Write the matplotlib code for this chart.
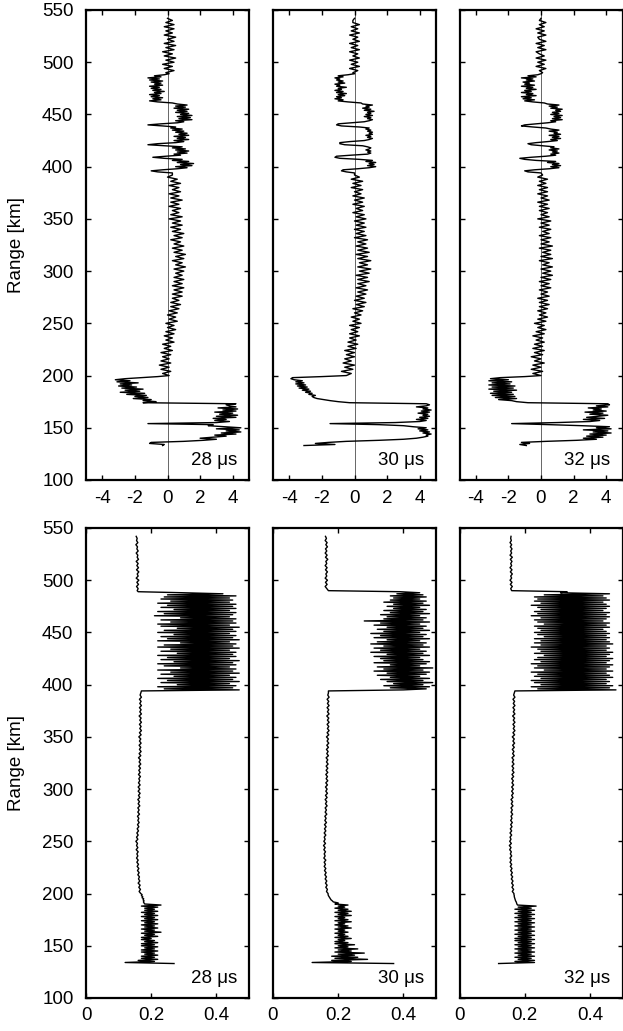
# -*- coding: utf-8 -*-

import numpy as np
import matplotlib
matplotlib.use("Agg")
import matplotlib.pyplot as plt

# --------------------
# Data
# --------------------

# range grid [km] (1 km steps where the profiles change quickly, 2 km elsewhere)
range_km = np.concatenate([
    np.arange(133, 200, 1),
    np.arange(200, 393, 2),
    np.arange(394, 491, 1),
    np.arange(492, 543, 2),
])

pulse_labels = ["28 \u03bcs", "30 \u03bcs", "32 \u03bcs"]

range_ticks = [100, 150, 200, 250, 300, 350, 400, 450, 500, 550]
top_xticks = [-4, -2, 0, 2, 4]
bottom_xticks = [0, 0.2, 0.4]
bottom_xticklabels = ["0", "0.2", "0.4"]

# upper row: signed amplitude profiles
amp_28 = [
    # 133 - 199 km
    -0.3, -0.2, -1.1, -1.0, 1.0, 2.2, 3.0, 2.0, 2.8, 3.6,
    2.9, 4.2, 3.3, 4.5, 3.6, 4.4, 3.0, 4.5, 3.5, 2.5,
    2.8, -1.2, 3.0, 3.8, 2.9, 3.6, 2.8, 4.2, 3.0, 4.3,
    3.2, 4.0, 2.9, 4.2, 3.4, 4.3, 3.1, 4.2, 3.8, 3.6,
    4.2, -1.5, -0.7, -1.5, -1.0, -2.1, -1.2, -2.0, -1.3, -2.5,
    -1.4, -2.9, -1.7, -2.6, -1.5, -2.8, -1.9, -3.0, -2.2, -2.9,
    -1.8, -3.1, -2.3, -3.2, -2.6, -1.6, -0.6,
    # 200 - 392 km
    0.1, -0.3, 0.2, -0.4, 0.1, -0.5, 0.2, -0.4, 0.1, -0.3,
    0.2, -0.4, 0.3, -0.2, 0.2, -0.3, 0.4, -0.1, 0.3, -0.2,
    0.4, -0.1, 0.5, 0.0, 0.4, -0.1, 0.6, 0.1, 0.5, 0.0,
    0.6, 0.1, 0.7, 0.2, 0.8, 0.2, 0.7, 0.3, 0.9, 0.3,
    0.9, 0.4, 1.0, 0.3, 0.9, 0.4, 1.0, 0.4, 0.9, 0.5,
    1.0, 0.4, 1.1, 0.5, 0.9, 0.3, 1.0, 0.5, 1.1, 0.4,
    0.9, 0.3, 1.0, 0.4, 0.8, 0.2, 0.9, 0.4, 1.0, 0.3,
    0.8, 0.2, 0.9, 0.3, 0.8, 0.1, 0.9, 0.2, 0.7, 0.3,
    0.8, 0.1, 0.7, 0.2, 0.9, 0.2, 0.7, 0.1, 0.8, 0.3,
    0.7, 0.1, 0.8, 0.2, 0.6, 0.0, 0.3,
    # 394 - 490 km
    0.3, -0.6, -1.0, -0.3, 0.6, 1.2, 0.5, 1.5, 0.8, 1.6,
    0.6, 1.3, 0.3, 0.9, -0.2, -0.9, -0.1, 0.8, 0.4, 1.2,
    0.6, 1.3, 0.5, 1.1, 0.3, 0.9, -0.2, -1.2, -0.6, 0.5,
    1.0, 0.4, 1.3, 0.6, 1.1, 0.4, 1.3, 0.7, 1.2, 0.5,
    1.0, 0.3, 0.9, 0.2, 0.5, -0.3, -1.2, -0.4, 0.6, 1.0,
    0.5, 1.5, 0.7, 1.4, 0.6, 1.5, 0.8, 1.3, 0.5, 1.2,
    0.6, 1.3, 0.4, 1.1, 0.5, 1.2, 0.6, 0.3, -0.6, -1.1,
    -0.4, -0.9, -0.3, -1.0, -0.5, -1.1, -0.4, -0.8, -0.2, -0.9,
    -0.4, -1.0, -0.5, -1.1, -0.3, -0.8, -0.4, -1.0, -0.3, -1.1,
    -0.5, -1.2, -0.4, -0.8, -0.2, 0.1, -0.1,
    # 492 - 542 km
    0.4, -0.2, 0.3, -0.3, 0.4, -0.1, 0.5, -0.2, 0.3, -0.3,
    0.4, -0.1, 0.5, -0.2, 0.4, 0.0, 0.5, -0.2, 0.3, -0.1,
    0.4, -0.2, 0.4, -0.1, 0.3, 0.0,
]

amp_30 = [
    # 133 - 199 km
    -3.1, -1.2, -2.4, -1.6, -0.5, 1.5, 3.0, 3.8, 4.2, 4.5,
    4.4, 4.7, 4.2, 4.6, 4.0, 4.5, 3.9, 4.4, 3.6, 3.0,
    1.5, -1.5, 2.5, 4.0, 4.4, 3.8, 4.5, 4.0, 4.6, 4.2,
    4.5, 3.9, 4.6, 4.1, 4.7, 4.2, 4.5, 3.8, 4.4, 4.6,
    4.4, -0.3, -1.0, -1.5, -1.9, -2.3, -2.5, -2.6, -2.4, -2.8,
    -2.6, -3.0, -2.7, -3.2, -2.8, -3.4, -2.9, -3.5, -3.0, -3.6,
    -3.1, -3.6, -3.2, -3.7, -3.9, -3.8, -2.0,
    # 200 - 392 km
    -0.5, -0.2, -0.8, -0.1, -0.6, 0.0, -0.7, -0.2, -0.6, 0.0,
    -0.5, 0.0, -0.6, 0.1, -0.4, 0.2, -0.4, 0.1, -0.3, 0.3,
    -0.3, 0.2, -0.2, 0.3, -0.3, 0.4, -0.1, 0.3, -0.2, 0.4,
    0.0, 0.5, -0.1, 0.6, 0.1, 0.7, 0.0, 0.6, 0.1, 0.7,
    0.2, 0.8, 0.1, 0.7, 0.2, 0.9, 0.2, 0.8, 0.1, 0.9,
    0.3, 1.0, 0.2, 0.8, 0.3, 1.0, 0.2, 0.8, 0.1, 0.9,
    0.2, 0.8, 0.1, 0.7, 0.2, 0.8, 0.0, 0.7, 0.1, 0.6,
    0.0, 0.7, 0.1, 0.6, 0.0, 0.7, 0.1, 0.6, -0.1, 0.5,
    0.1, 0.6, -0.1, 0.5, 0.0, 0.6, -0.1, 0.4, 0.0, 0.5,
    -0.2, 0.4, -0.1, 0.5, -0.2, 0.3, 0.0,
    # 394 - 490 km
    0.0, -0.5, -0.8, -0.7, 0.2, 0.9, 1.3, 0.8, 1.2, 0.9,
    1.3, 0.7, 1.1, 0.3, -0.9, -1.2, -1.1, -0.2, 0.8, 1.0,
    0.8, 1.0, 0.7, 0.9, 1.0, 0.8, 0.5, -0.6, -0.9, -0.9,
    -0.3, 0.6, 0.9, 1.1, 0.8, 1.0, 0.7, 1.1, 0.9, 1.1,
    0.8, 1.0, 0.7, 0.9, 0.3, -0.8, -1.1, -1.0, -0.2, 0.6,
    0.9, 1.1, 0.8, 1.0, 0.6, 1.1, 0.7, 1.0, 0.8, 1.2,
    0.6, 1.0, 0.5, 0.9, 0.7, 1.1, 0.5, 0.4, -0.4, -1.0,
    -0.7, -1.2, -0.8, -1.1, -0.6, -1.0, -0.5, -1.1, -0.7, -1.2,
    -0.8, -1.0, -0.5, -1.1, -0.9, -1.2, -0.6, -1.0, -0.7, -1.1,
    -0.9, -1.2, -0.7, -1.0, -0.4, 0.0, -0.1,
    # 492 - 542 km
    0.2, -0.3, 0.3, -0.2, 0.2, -0.3, 0.3, -0.1, 0.2, -0.3,
    0.3, -0.2, 0.2, -0.3, 0.3, -0.1, 0.2, -0.3, 0.3, -0.2,
    0.2, -0.2, 0.3, -0.1, -0.1, 0.0,
]

amp_32 = [
    # 133 - 199 km
    -0.9, -1.3, -0.7, -1.2, 0.3, 2.2, 3.4, 2.6, 3.8, 2.8,
    4.0, 3.0, 4.3, 3.2, 4.1, 2.6, 4.3, 3.4, 4.2, 2.5,
    0.5, -1.8, 1.0, 3.0, 3.6, 2.6, 3.9, 2.8, 3.5, 4.1,
    3.0, 3.8, 2.7, 4.0, 3.2, 3.7, 2.9, 4.1, 3.4, 4.2,
    4.1, -0.8, -1.5, -1.8, -2.6, -1.5, -2.8, -1.6, -3.0, -1.7,
    -3.1, -1.8, -2.9, -1.5, -3.2, -1.7, -3.0, -1.6, -3.2, -1.9,
    -3.0, -1.8, -3.2, -2.0, -3.1, -2.5, -1.0,
    # 200 - 392 km
    0.0, -0.5, 0.1, -0.6, 0.0, -0.5, 0.2, -0.4, 0.0, -0.6,
    0.1, -0.4, 0.2, -0.5, 0.1, -0.4, 0.2, -0.3, 0.1, -0.5,
    0.2, -0.3, 0.3, -0.2, 0.2, -0.4, 0.3, -0.2, 0.4, -0.1,
    0.3, -0.2, 0.4, -0.1, 0.5, -0.1, 0.4, -0.2, 0.5, 0.0,
    0.4, -0.1, 0.6, 0.0, 0.5, -0.1, 0.6, 0.0, 0.7, 0.1,
    0.6, 0.0, 0.7, 0.1, 0.5, -0.1, 0.7, 0.0, 0.6, 0.1,
    0.6, -0.1, 0.7, 0.0, 0.5, 0.0, 0.6, -0.1, 0.5, 0.1,
    0.6, -0.1, 0.5, 0.0, 0.6, -0.2, 0.5, 0.0, 0.4, -0.1,
    0.5, -0.1, 0.4, -0.2, 0.5, 0.0, 0.4, -0.2, 0.4, -0.1,
    0.4, -0.2, 0.3, -0.1, 0.4, -0.2, 0.1,
    # 394 - 490 km
    0.0, -0.8, -1.0, -0.4, 0.5, 1.1, 0.6, 1.2, 0.7, 1.1,
    0.4, 0.9, -0.3, -1.0, -1.3, -0.6, 0.3, 0.9, 0.6, 1.1,
    0.7, 1.0, 0.5, 1.1, 0.6, 0.8, 0.1, -0.6, -0.8, -0.3,
    0.4, 1.0, 0.6, 1.2, 0.7, 1.1, 0.5, 1.2, 0.8, 1.0,
    0.5, 1.1, 0.6, 0.3, -0.5, -1.2, -1.0, -0.3, 0.4, 0.9,
    0.6, 1.3, 0.7, 1.2, 0.8, 1.3, 0.6, 1.1, 0.7, 1.2,
    0.9, 1.3, 0.6, 1.0, 0.5, 1.1, 0.4, 0.2, -0.5, -1.0,
    -0.4, -1.1, -0.6, -1.2, -0.3, -0.9, -0.5, -1.2, -0.6, -1.0,
    -0.3, -0.9, -0.5, -1.2, -0.4, -1.0, -0.7, -1.1, -0.4, -0.9,
    -0.5, -1.2, -0.3, -0.8, -0.2, 0.0, 0.1,
    # 492 - 542 km
    -0.1, 0.3, -0.3, 0.2, -0.2, 0.3, -0.3, 0.2, -0.1, -0.3,
    0.3, -0.2, 0.2, -0.3, 0.3, -0.1, -0.2, 0.3, -0.2, 0.2,
    -0.3, 0.2, -0.1, 0.3, -0.1, 0.0,
]

# lower row: power profiles
pow_28 = [
    # 133 - 199 km
    0.27, 0.12, 0.21, 0.16, 0.22, 0.17, 0.21, 0.17, 0.22, 0.18,
    0.21, 0.17, 0.22, 0.17, 0.21, 0.18, 0.22, 0.17, 0.21, 0.17,
    0.22, 0.18, 0.21, 0.17, 0.20, 0.17, 0.22, 0.18, 0.21, 0.17,
    0.23, 0.18, 0.21, 0.17, 0.22, 0.18, 0.21, 0.17, 0.22, 0.18,
    0.21, 0.17, 0.22, 0.18, 0.21, 0.17, 0.22, 0.18, 0.21, 0.17,
    0.22, 0.18, 0.21, 0.18, 0.22, 0.17, 0.23, 0.18, 0.178, 0.176,
    0.178, 0.175, 0.177, 0.172, 0.174, 0.170, 0.172,
    # 200 - 392 km
    0.168, 0.163, 0.167, 0.162, 0.166, 0.160, 0.165, 0.161, 0.164, 0.159,
    0.163, 0.158, 0.162, 0.157, 0.161, 0.156, 0.160, 0.155, 0.159, 0.156,
    0.160, 0.154, 0.159, 0.155, 0.158, 0.153, 0.159, 0.155, 0.160, 0.156,
    0.161, 0.157, 0.162, 0.158, 0.163, 0.159, 0.162, 0.158, 0.164, 0.159,
    0.163, 0.159, 0.165, 0.160, 0.164, 0.159, 0.165, 0.161, 0.166, 0.160,
    0.165, 0.160, 0.166, 0.161, 0.165, 0.162, 0.167, 0.161, 0.166, 0.162,
    0.167, 0.162, 0.168, 0.163, 0.167, 0.161, 0.168, 0.163, 0.169, 0.164,
    0.168, 0.163, 0.169, 0.164, 0.168, 0.162, 0.169, 0.164, 0.170, 0.165,
    0.169, 0.164, 0.170, 0.165, 0.169, 0.163, 0.170, 0.165, 0.169, 0.164,
    0.170, 0.165, 0.169, 0.164, 0.170, 0.166, 0.168,
    # 394 - 490 km
    0.17, 0.47, 0.24, 0.45, 0.22, 0.46, 0.28, 0.44, 0.23, 0.47,
    0.25, 0.45, 0.22, 0.46, 0.27, 0.44, 0.23, 0.47, 0.26, 0.45,
    0.22, 0.46, 0.29, 0.44, 0.24, 0.46, 0.22, 0.45, 0.27, 0.47,
    0.23, 0.44, 0.25, 0.46, 0.22, 0.45, 0.28, 0.46, 0.23, 0.44,
    0.26, 0.47, 0.22, 0.45, 0.24, 0.46, 0.29, 0.44, 0.22, 0.47,
    0.25, 0.45, 0.23, 0.46, 0.27, 0.44, 0.22, 0.46, 0.24, 0.45,
    0.28, 0.47, 0.23, 0.44, 0.22, 0.46, 0.26, 0.45, 0.23, 0.46,
    0.29, 0.44, 0.21, 0.45, 0.24, 0.46, 0.22, 0.44, 0.27, 0.46,
    0.23, 0.45, 0.25, 0.46, 0.22, 0.44, 0.26, 0.45, 0.23, 0.44,
    0.24, 0.46, 0.25, 0.42, 0.30, 0.16, 0.157,
    # 492 - 542 km
    0.160, 0.155, 0.161, 0.156, 0.162, 0.154, 0.160, 0.157, 0.162, 0.155,
    0.161, 0.156, 0.160, 0.154, 0.161, 0.157, 0.159, 0.154, 0.160, 0.156,
    0.158, 0.153, 0.159, 0.155, 0.157, 0.154,
]

pow_30 = [
    # 133 - 199 km
    0.37, 0.12, 0.24, 0.18, 0.29, 0.19, 0.26, 0.18, 0.25, 0.20,
    0.28, 0.19, 0.24, 0.20, 0.26, 0.19, 0.23, 0.20, 0.25, 0.19,
    0.23, 0.19, 0.22, 0.20, 0.24, 0.19, 0.23, 0.20, 0.22, 0.19,
    0.23, 0.20, 0.22, 0.19, 0.24, 0.20, 0.23, 0.19, 0.22, 0.20,
    0.24, 0.19, 0.23, 0.20, 0.22, 0.19, 0.24, 0.20, 0.23, 0.19,
    0.24, 0.20, 0.23, 0.19, 0.22, 0.20, 0.23, 0.19, 0.20, 0.185,
    0.182, 0.178, 0.176, 0.174, 0.172, 0.170, 0.169,
    # 200 - 392 km
    0.169, 0.164, 0.167, 0.162, 0.166, 0.161, 0.165, 0.160, 0.164, 0.159,
    0.163, 0.158, 0.162, 0.157, 0.161, 0.157, 0.162, 0.156, 0.160, 0.157,
    0.161, 0.156, 0.160, 0.155, 0.161, 0.156, 0.160, 0.157, 0.162, 0.157,
    0.162, 0.158, 0.163, 0.158, 0.164, 0.159, 0.163, 0.159, 0.165, 0.160,
    0.164, 0.160, 0.166, 0.161, 0.165, 0.160, 0.166, 0.161, 0.167, 0.162,
    0.166, 0.161, 0.167, 0.162, 0.168, 0.163, 0.167, 0.162, 0.168, 0.163,
    0.168, 0.163, 0.169, 0.164, 0.168, 0.163, 0.170, 0.165, 0.169, 0.164,
    0.170, 0.165, 0.171, 0.166, 0.170, 0.164, 0.171, 0.166, 0.172, 0.167,
    0.171, 0.166, 0.172, 0.167, 0.171, 0.165, 0.172, 0.167, 0.171, 0.166,
    0.172, 0.167, 0.171, 0.166, 0.172, 0.168, 0.170,
    # 394 - 490 km
    0.17, 0.40, 0.47, 0.36, 0.48, 0.34, 0.46, 0.37, 0.49, 0.35,
    0.46, 0.33, 0.48, 0.36, 0.45, 0.32, 0.47, 0.35, 0.48, 0.31,
    0.46, 0.34, 0.49, 0.32, 0.45, 0.36, 0.47, 0.31, 0.48, 0.34,
    0.46, 0.33, 0.45, 0.31, 0.48, 0.35, 0.46, 0.30, 0.47, 0.33,
    0.45, 0.31, 0.48, 0.34, 0.46, 0.30, 0.47, 0.32, 0.45, 0.35,
    0.48, 0.31, 0.46, 0.33, 0.47, 0.30, 0.45, 0.34, 0.48, 0.32,
    0.46, 0.35, 0.47, 0.31, 0.45, 0.33, 0.48, 0.28, 0.46, 0.34,
    0.47, 0.35, 0.45, 0.33, 0.48, 0.36, 0.46, 0.34, 0.47, 0.37,
    0.45, 0.35, 0.48, 0.37, 0.46, 0.34, 0.47, 0.36, 0.45, 0.37,
    0.47, 0.36, 0.46, 0.38, 0.45, 0.39, 0.17,
    # 492 - 542 km
    0.165, 0.160, 0.166, 0.161, 0.167, 0.160, 0.165, 0.162, 0.167, 0.161,
    0.166, 0.160, 0.165, 0.162, 0.168, 0.161, 0.166, 0.160, 0.165, 0.161,
    0.167, 0.162, 0.166, 0.160, 0.164, 0.161,
]

pow_32 = [
    # 133 - 199 km
    0.12, 0.23, 0.17, 0.23, 0.18, 0.22, 0.17, 0.23, 0.18, 0.22,
    0.17, 0.23, 0.18, 0.22, 0.17, 0.23, 0.18, 0.22, 0.17, 0.23,
    0.18, 0.22, 0.17, 0.23, 0.17, 0.22, 0.18, 0.23, 0.17, 0.22,
    0.18, 0.23, 0.17, 0.22, 0.18, 0.23, 0.17, 0.22, 0.18, 0.23,
    0.17, 0.22, 0.18, 0.23, 0.17, 0.22, 0.18, 0.23, 0.17, 0.22,
    0.18, 0.23, 0.17, 0.22, 0.18, 0.235, 0.178, 0.176, 0.175, 0.174,
    0.172, 0.171, 0.170, 0.169, 0.168, 0.168, 0.167,
    # 200 - 392 km
    0.167, 0.162, 0.166, 0.161, 0.165, 0.160, 0.164, 0.159, 0.163, 0.158,
    0.162, 0.157, 0.161, 0.156, 0.160, 0.155, 0.159, 0.155, 0.160, 0.156,
    0.159, 0.154, 0.158, 0.153, 0.159, 0.154, 0.158, 0.155, 0.160, 0.155,
    0.160, 0.156, 0.161, 0.157, 0.162, 0.157, 0.161, 0.158, 0.163, 0.158,
    0.162, 0.158, 0.164, 0.159, 0.163, 0.158, 0.164, 0.160, 0.165, 0.160,
    0.165, 0.160, 0.166, 0.161, 0.165, 0.160, 0.166, 0.161, 0.167, 0.162,
    0.166, 0.161, 0.167, 0.162, 0.166, 0.161, 0.168, 0.163, 0.167, 0.162,
    0.168, 0.163, 0.169, 0.164, 0.168, 0.162, 0.169, 0.164, 0.170, 0.165,
    0.169, 0.164, 0.170, 0.165, 0.169, 0.163, 0.170, 0.165, 0.169, 0.164,
    0.170, 0.165, 0.169, 0.164, 0.170, 0.166, 0.168,
    # 394 - 490 km
    0.17, 0.48, 0.24, 0.46, 0.22, 0.47, 0.25, 0.45, 0.23, 0.46,
    0.22, 0.45, 0.25, 0.47, 0.23, 0.46, 0.24, 0.45, 0.22, 0.47,
    0.26, 0.45, 0.23, 0.46, 0.24, 0.47, 0.22, 0.45, 0.25, 0.46,
    0.23, 0.47, 0.24, 0.45, 0.26, 0.46, 0.23, 0.47, 0.25, 0.45,
    0.24, 0.46, 0.22, 0.45, 0.25, 0.47, 0.23, 0.46, 0.25, 0.45,
    0.23, 0.46, 0.26, 0.45, 0.24, 0.46, 0.23, 0.45, 0.25, 0.44,
    0.24, 0.46, 0.23, 0.45, 0.26, 0.46, 0.24, 0.44, 0.23, 0.45,
    0.25, 0.46, 0.22, 0.45, 0.24, 0.46, 0.23, 0.44, 0.25, 0.45,
    0.24, 0.46, 0.22, 0.45, 0.25, 0.44, 0.23, 0.46, 0.24, 0.45,
    0.23, 0.44, 0.26, 0.46, 0.31, 0.33, 0.16,
    # 492 - 542 km
    0.157, 0.162, 0.156, 0.161, 0.155, 0.160, 0.157, 0.162, 0.156, 0.161,
    0.155, 0.160, 0.157, 0.161, 0.156, 0.162, 0.155, 0.160, 0.157, 0.161,
    0.156, 0.160, 0.155, 0.159, 0.157, 0.158,
]

top_profiles = [amp_28, amp_30, amp_32]
bottom_profiles = [pow_28, pow_30, pow_32]


if __name__ == '__main__':
    plt.rcParams['font.family'] = ['Liberation Sans', 'DejaVu Sans']
    plt.rcParams['axes.unicode_minus'] = False

    for p in top_profiles + bottom_profiles:
        assert len(p) == len(range_km), (len(p), len(range_km))

    fig = plt.figure(figsize=(6.23, 10.31), dpi=100)

    col_left = [86 / 623, 273 / 623, 459.5 / 623]
    ax_w = 163 / 623
    ax_h = 470 / 1031
    row_bottom = [1 - 480 / 1031, 1 - 998 / 1031]

    font_size = 13.5

    for row in range(2):
        for col in range(3):
            ax = fig.add_axes([col_left[col], row_bottom[row], ax_w, ax_h])

            if row == 0:
                # signed amplitude with zero reference line
                ax.axvline(0, color='0.3', lw=0.6, zorder=1)
                ax.plot(top_profiles[col], range_km, color='k', lw=1.0, zorder=2)
                ax.set_xlim(-5, 5)
                ax.set_xticks(top_xticks)
                xpad = 7
            else:
                ax.plot(bottom_profiles[col], range_km, color='k', lw=1.0, zorder=2)
                ax.set_xlim(0, 0.5)
                ax.set_xticks(bottom_xticks)
                ax.set_xticklabels(bottom_xticklabels)
                xpad = 6.5

            ax.set_ylim(100, 550)
            ax.set_yticks(range_ticks)

            ax.tick_params(axis='both', direction='in', top=True, right=True,
                           length=3.5, width=1.0, labelsize=font_size)
            ax.tick_params(axis='x', pad=xpad)
            ax.tick_params(axis='y', pad=9)

            for spine in ax.spines.values():
                spine.set_linewidth(1.6)

            if col == 0:
                ax.set_ylabel("Range [km]", fontsize=font_size)
                ax.yaxis.set_label_coords(-0.374, 0.5)
            else:
                ax.tick_params(axis='y', labelleft=False)

            # pulse length label in the lower right corner
            ax.text(0.926, 0.032, pulse_labels[col], transform=ax.transAxes,
                    ha='right', va='baseline', fontsize=font_size)

    fig.savefig("out.png", dpi=100)
